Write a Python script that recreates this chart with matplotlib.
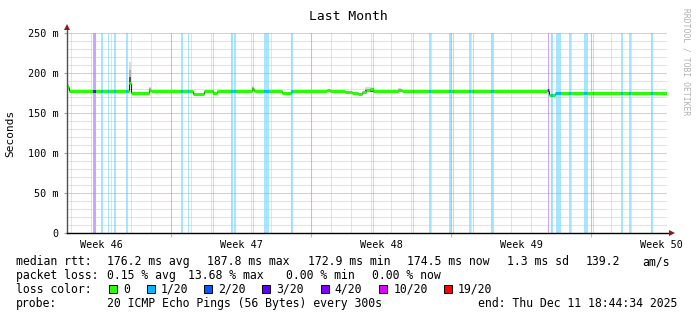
import numpy as np
import matplotlib
matplotlib.use("Agg")
import matplotlib.pyplot as plt
from matplotlib.patches import Rectangle

# ---------------- data ----------------
# median rtt (ms), step breakpoints in days from graph start
median_days = [0.0, 0.075, 3.1, 3.2, 4.1, 4.2, 6.3, 6.85, 7.3, 7.5, 9.25, 9.33,
               9.9, 10.75, 11.18, 13.0, 13.15, 13.9, 14.25, 14.55, 14.75, 14.95,
               15.15, 15.3, 16.55, 16.75, 24.0, 24.1, 24.4, 26.0]
median_ms = [182, 177, 187.5, 175.5, 178.5, 177, 174.2, 177, 174.5, 177, 179.5, 177.5,
             177.8, 175, 177, 179, 178, 176.5, 175, 174, 176.5, 179,
             180.5, 177, 178.5, 177, 178.5, 173, 175, 174.5]
end_day = 30.0

# smoke (ping spread) above the median
smoke_start = [0.0, 3.1, 4.1, 9.25, 9.9, 14.9, 16.55, 2.3]
smoke_end = [0.1, 3.2, 4.2, 9.35, 10.75, 15.3, 16.7, 2.4]
smoke_top = [186, 214, 183, 184, 180, 182, 181, 180]

# packet loss periods
loss_start = [1.285, 1.7, 2.065, 2.35, 2.95, 5.7, 6.05, 7.285, 8.2, 8.35, 9.285, 9.85,
              11.2, 15.285, 17.285, 18.1, 19.115, 19.285, 20.1, 20.3, 21.2, 24.065,
              24.215, 24.435, 25.1, 25.85, 26.285, 27.7, 28.1, 29.2]
loss_end = [1.45, 1.8, 2.115, 2.45, 3.05, 5.8, 6.1, 7.335, 8.3, 8.45, 9.335, 10.1,
            11.3, 15.35, 17.35, 18.215, 19.215, 19.335, 20.215, 20.35, 21.35, 24.1,
            24.3, 24.7, 25.215, 26.05, 26.335, 27.8, 28.215, 29.3]
loss_level = ['3/20', '1/20', '1/20', '1/20', '1/20', '1/20', '1/20', '1/20', '1/20',
              '1/20', '1/20', '1/20', '1/20', '1/20', '1/20', '1/20', '1/20', '1/20',
              '1/20', '1/20', '1/20', '3/20', '1/20', '1/20', '1/20', '1/20', '1/20',
              '1/20', '1/20', '1/20']

loss_names = ['0', '1/20', '2/20', '3/20', '4/20', '10/20', '19/20']
loss_colors = ['#26ff00', '#00b8ff', '#0059ff', '#5e00ff', '#7e00ff', '#dd00ff', '#ff0000']
color_of = dict(zip(loss_names, loss_colors))

week_labels = ['Week 46', 'Week 47', 'Week 48', 'Week 49', 'Week 50']
week_label_days = [1.7, 8.7, 15.7, 22.7, 29.7]
week_line_days = [5.2, 12.2, 19.2, 26.2]
y_ticks = [0, 50, 100, 150, 200, 250]
y_labels = ['0', '50 m', '100 m', '150 m', '200 m', '250 m']

# ---------------- figure ----------------
W, H = 697, 321
fig = plt.figure(figsize=(W / 100, H / 100), dpi=100)
fig.patch.set_facecolor('white')
ax = fig.add_axes([67 / W, 88 / H, 600 / W, 200 / H])
ax.set_xlim(0, 30)
ax.set_ylim(0, 250)
ax.set_facecolor('white')
mono = 'DejaVu Sans Mono'

# loss spans
for s, e, lv in zip(loss_start, loss_end, loss_level):
    ax.axvspan(s, e, color=color_of[lv], alpha=0.35, lw=0, zorder=1)

# grid on top of spans
for d in np.arange(0.2, 30, 1.0):
    ax.axvline(d, color='#c8c8c8', alpha=0.5, lw=0.75, zorder=2)
for v in range(10, 250, 10):
    if v % 50:
        ax.axhline(v, color='#c8c8c8', alpha=0.5, lw=0.75, zorder=2)
for d in week_line_days:
    ax.axvline(d, color='#ff8080', alpha=0.5, lw=0.75, zorder=2.1)
for v in [50, 100, 150, 200, 250]:
    ax.axhline(v, color='#ff8080', alpha=0.5, lw=0.75, zorder=2.1)

# smoke
md = np.array(median_days)
mv = np.array(median_ms)
for s, e, t in zip(smoke_start, smoke_end, smoke_top):
    base = mv[np.searchsorted(md, s, side='right') - 1]
    ax.fill_between([s, e], base, t, color='#dadada', lw=0, zorder=3)
    ax.fill_between([s, e], base, base + (t - base) * 0.6, color='#b0b0b0', lw=0, zorder=3)
    ax.fill_between([s, e], base, base + (t - base) * 0.3, color='#505050', lw=0, zorder=3)

# median line: horizontal pieces coloured by loss, thin dark connectors
xs_end = np.append(md[1:], end_day)
ax.vlines(md[1:], mv[:-1], mv[1:], color='#202020', lw=0.8, zorder=4)
ax.hlines(mv, md, xs_end, color=color_of['0'], lw=2.2, zorder=4.5, capstyle='butt')
for s, e, lv in zip(loss_start, loss_end, loss_level):
    lc = ax.hlines(mv, md, xs_end, color=color_of[lv], lw=2.2, zorder=5, capstyle='butt')
    lc.set_clip_path(Rectangle((s, 0), e - s, 250, transform=ax.transData))

# axes
for sp in ['top', 'right', 'left', 'bottom']:
    ax.spines[sp].set_visible(False)
ax.plot([0, 0], [0, 1.025], transform=ax.transAxes, color='#505050', lw=1, clip_on=False, zorder=6)
ax.plot([0, 1.007], [0, 0], transform=ax.transAxes, color='black', lw=1, clip_on=False, zorder=6)
ax.plot([0], [1.03], marker='^', ms=4.5, color='#8b1a1a', transform=ax.transAxes, clip_on=False, zorder=7, mew=0)
ax.plot([1.009], [0], marker='>', ms=4.5, color='#8b1a1a', transform=ax.transAxes, clip_on=False, zorder=7, mew=0)

ax.set_yticks(y_ticks)
ax.set_yticklabels(y_labels, fontfamily=mono, fontsize=7.3)
ax.tick_params(axis='y', length=2, width=0.8, color='#a0a0a0', pad=4)
ax.set_xticks(week_label_days)
ax.set_xticklabels(week_labels, fontfamily=mono, fontsize=7.3)
ax.tick_params(axis='x', which='major', length=0, pad=5)
ax.set_xticks(week_line_days, minor=True)
ax.tick_params(axis='x', which='minor', length=3, width=0.8, color='#f0a0a0')

ax.set_ylabel('Seconds', fontfamily=mono, fontsize=8)
ax.yaxis.set_label_coords(-52 / 600, 0.5)

# title and side text
fig.text(348 / W, 1 - 17 / H, 'Last Month', fontfamily=mono, fontsize=9.4, ha='center', va='center')
fig.text(686 / W, 1 - 62 / H, 'RRDTOOL / TOBI OETIKER', fontfamily=mono, fontsize=5.8,
         color='#b0b0b0', rotation=-90, ha='center', va='center')

# legend lines
fs = 8.3
def t(x, y, s, **kw):
    fig.text(x / W, 1 - y / H, s, fontfamily=mono, fontsize=fs, ha='left', va='center', **kw)

y1, y2, y3, y4 = 261.7, 275.3, 289.3, 303.3
t(16, y1, 'median rtt:')
t(106.7, y1, '176.2 ms avg')
t(207.3, y1, '187.8 ms max')
t(308, y1, '172.9 ms min')
t(407.3, y1, '174.5 ms now')
t(506.7, y1, '1.3 ms sd')
t(586, y1, '139.2')
t(642.7, y1, 'am/s')

t(16, y2, 'packet loss:')
t(107.3, y2, '0.15 % avg')
t(187.7, y2, '13.68 % max')
t(285.7, y2, '0.00 % min')
t(372.3, y2, '0.00 % now')

t(16, y3, 'loss color:')
box_x = [109.3, 146.7, 204, 262.3, 320.7, 379.3, 444]
for bx, name, c in zip(box_x, loss_names, loss_colors):
    fig.patches.append(Rectangle((bx / W, 1 - (y3 + 4) / H), 8 / W, 8 / H,
                                 transform=fig.transFigure, facecolor=c,
                                 edgecolor='black', lw=0.7, figure=fig))
    t(bx + 14, y3, name)

t(16, y4, 'probe:')
t(106.7, y4, '20 ICMP Echo Pings (56 Bytes) every 300s')
t(478.3, y4, 'end: Thu Dec 11 18:44:34 2025')

fig.savefig('out.png', dpi=100, facecolor='white')
